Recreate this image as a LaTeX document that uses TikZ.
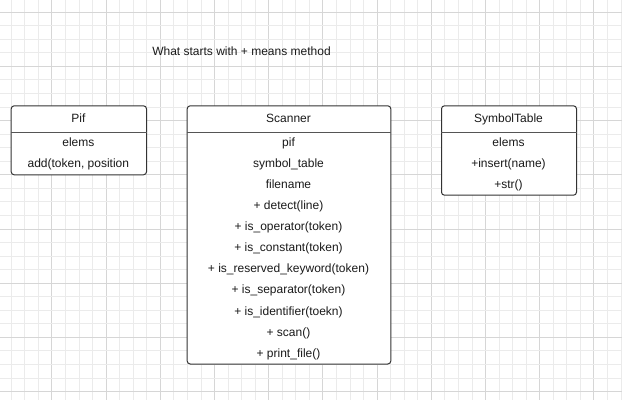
\documentclass[tikz,border=0pt]{standalone}
\usepackage{fontspec}
\setmainfont{Liberation Sans}
\definecolor{gridminor}{HTML}{EBEBEB}
\definecolor{gridmajor}{HTML}{D6D6D6}
\definecolor{boxline}{HTML}{333333}
\definecolor{divline}{HTML}{555555}
\definecolor{txtcol}{HTML}{1A1A1A}
\tikzset{
  umlbox/.style={draw=boxline, line width=1pt, rounded corners=3pt, fill=white, inner sep=0pt, anchor=north west},
  divider/.style={draw=divline, line width=1pt},
  txt/.style={inner sep=0pt, anchor=base, text=txtcol, font=\fontsize{12}{14}\selectfont},
}
\begin{document}
\begin{tikzpicture}[x=1pt,y=-1pt]
\useasboundingbox (0,0) rectangle (622,400);
\fill[white] (0,0) rectangle (622,400);
% grid
\foreach \k in {0,...,45} {
  \pgfmathsetmacro{\xx}{11.3+13.55*\k}
  \pgfmathtruncatemacro{\m}{mod(\k,4)}
  \ifnum\m=3
    \draw[gridmajor, line width=1pt] (\xx,0) -- (\xx,400);
  \else
    \draw[gridminor, line width=1pt] (\xx,0) -- (\xx,400);
  \fi
}
\foreach \k in {0,...,29} {
  \pgfmathsetmacro{\yy}{12.2+13.55*\k}
  \pgfmathtruncatemacro{\m}{mod(\k,4)}
  \ifnum\m=0
    \draw[gridmajor, line width=1pt] (0,\yy) -- (622,\yy);
  \else
    \draw[gridminor, line width=1pt] (0,\yy) -- (622,\yy);
  \fi
}
% note
\node[txt] (note) at (241.5,55.3) {What starts with + means method};
% boxes
\node[umlbox, minimum width=135.3pt, minimum height=69pt] (pif) at (10.7,105.3) {};
\node[umlbox, minimum width=203.6pt, minimum height=258.2pt] (scanner) at (186.7,105.3) {};
\node[umlbox, minimum width=135pt, minimum height=89.4pt] (symtab) at (441,105.3) {};
\foreach \b in {pif,scanner,symtab} {
  \draw[divider] ([yshift=-27pt]\b.north west) -- ([yshift=-27pt]\b.north east);
}
% Pif
\node[txt] (pif-title) at (78.35,122.2) {Pif};
\node[txt] (pif-a1) at (78.35,146.2) {elems};
\node[txt] (pif-m1) at (78.35,167.3) {add(token, position};
% Scanner
\node[txt] (sc-title) at (288.5,122.2) {Scanner};
\node[txt] (sc-1) at (288.5,146.2) {pif};
\node[txt] (sc-2) at (288.5,167.3) {symbol\_table};
\node[txt] (sc-3) at (288.5,188.4) {filename};
\node[txt] (sc-4) at (288.5,209.5) {+ detect(line)};
\node[txt] (sc-5) at (288.5,230.6) {+ is\_operator(token)};
\node[txt] (sc-6) at (288.5,251.7) {+ is\_constant(token)};
\node[txt] (sc-7) at (288.5,272.8) {+ is\_reserved\_keyword(token)};
\node[txt] (sc-8) at (288.5,293.9) {+ is\_separator(token)};
\node[txt] (sc-9) at (288.5,315.0) {+ is\_identifier(toekn)};
\node[txt] (sc-10) at (288.5,336.1) {+ scan()};
\node[txt] (sc-11) at (288.5,357.2) {+ print\_file()};
% SymbolTable
\node[txt] (st-title) at (508.5,122.2) {SymbolTable};
\node[txt] (st-1) at (508.5,146.2) {elems};
\node[txt] (st-2) at (508.5,167.3) {+insert(name)};
\node[txt] (st-3) at (508.5,188.4) {+str()};
\end{tikzpicture}
\end{document}
